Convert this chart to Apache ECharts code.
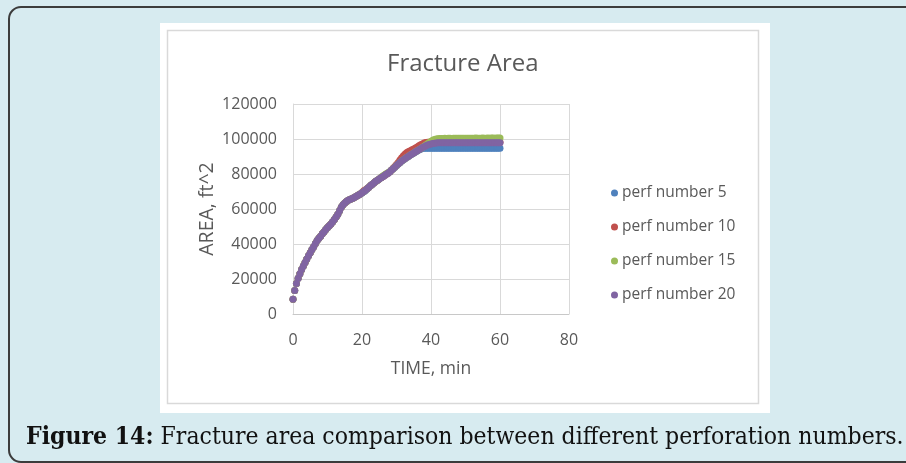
<!DOCTYPE html>
<html>
<head>
<meta charset="utf-8">
<script src="https://cdn.jsdelivr.net/npm/echarts@6/dist/echarts.min.js"></script>
<style>
  html, body { margin: 0; padding: 0; background: #d7ebf0; }
  #chart { width: 906px; height: 463px; }
</style>
</head>
<body>
<div id="chart"></div>
<script>
// Elapsed pumping time, minutes (shared by all runs)
const timeMin = [
  0, 0.5, 1, 1.5, 2, 2.5, 3, 3.5, 4, 4.5,
  5, 5.5, 6, 6.5, 7, 7.5, 8, 8.5, 9, 9.5,
  10, 10.5, 11, 11.5, 12, 12.5, 13, 13.5, 14, 14.5,
  15, 15.5, 16, 16.5, 17, 17.5, 18, 18.5, 19, 19.5,
  20, 20.5, 21, 21.5, 22, 22.5, 23, 23.5, 24, 24.5,
  25, 25.5, 26, 26.5, 27, 27.5, 28, 28.5, 29, 29.5,
  30, 30.5, 31, 31.5, 32, 32.5, 33, 33.5, 34, 34.5,
  35, 35.5, 36, 36.5, 37, 37.5, 38, 38.5, 39, 39.5,
  40, 40.5, 41, 41.5, 42, 42.5, 43, 43.5, 44, 44.5,
  45, 45.5, 46, 46.5, 47, 47.5, 48, 48.5, 49, 49.5,
  50, 50.5, 51, 51.5, 52, 52.5, 53, 53.5, 54, 54.5,
  55, 55.5, 56, 56.5, 57, 57.5, 58, 58.5, 59, 59.5,
  60];

// Fracture area, ft^2, for each perforation count
const perf5 = [
  8500, 13500, 17500, 20500, 23000, 25500, 27500, 29500, 31500, 33300,
  35000, 36800, 38500, 40300, 42000, 43300, 44500, 45800, 47000, 48300,
  49500, 50500, 51500, 52700, 54000, 55500, 57000, 59000, 61000, 62400,
  63500, 64300, 65000, 65400, 65800, 66300, 66800, 67400, 68000, 68600,
  69100, 69800, 70600, 71600, 72500, 73400, 74200, 75000, 75800, 76500,
  77200, 77900, 78500, 79200, 79800, 80500, 81200, 82100, 83000, 83900,
  84800, 85700, 86600, 87400, 88200, 88900, 89600, 90200, 90800, 91400,
  92000, 92600, 93100, 93700, 94200, 94600, 94700, 94700, 94700, 94700,
  94700, 94700, 94700, 94700, 94700, 94700, 94700, 94700, 94700, 94700,
  94700, 94700, 94700, 94700, 94700, 94700, 94700, 94700, 94700, 94700,
  94700, 94700, 94700, 94700, 94700, 94700, 94700, 94700, 94700, 94700,
  94700, 94700, 94700, 94700, 94700, 94700, 94700, 94700, 94700, 94700,
  94700];
const perf10 = [
  8500, 13500, 17500, 20500, 23000, 25500, 27500, 29500, 31500, 33300,
  35000, 36800, 38500, 40300, 42000, 43300, 44500, 45800, 47000, 48300,
  49500, 50500, 51500, 52700, 54000, 55500, 57000, 59000, 61000, 62400,
  63500, 64300, 65000, 65400, 65800, 66300, 66800, 67400, 68000, 68600,
  69500, 70400, 71000, 71700, 72500, 73400, 74200, 75000, 75800, 76500,
  77200, 77900, 78500, 79200, 79800, 80500, 81200, 82100, 83300, 84300,
  85400, 86600, 88000, 89300, 90500, 91500, 92300, 92800, 93300, 93800,
  94300, 94900, 95500, 96100, 96700, 97200, 97700, 98000, 98200, 98200,
  98200, 98200, 98200, 98200, 98200, 98200, 98200, 98200, 98200, 98200,
  98200, 98200, 98200, 98200, 98200, 98200, 98200, 98200, 98200, 98200,
  98200, 98200, 98200, 98200, 98200, 98200, 98200, 98200, 98200, 98200,
  98200, 98200, 98200, 98200, 98200, 98200, 98200, 98200, 98200, 98200,
  98200];
const perf15 = [
  8500, 13500, 17500, 20500, 23000, 25500, 27500, 29500, 31500, 33300,
  35000, 36800, 38500, 40300, 42000, 43300, 44500, 45800, 47000, 48300,
  49500, 50500, 51500, 52700, 54000, 55500, 57000, 59000, 61000, 62400,
  63500, 64300, 65000, 65400, 65800, 66300, 66800, 67400, 68000, 68600,
  69300, 70000, 70700, 71600, 72500, 73400, 74200, 75000, 75800, 76500,
  77200, 78000, 78800, 79500, 80100, 80700, 81300, 82100, 83000, 83900,
  84800, 85700, 86600, 87400, 88200, 88900, 89600, 90200, 90800, 91400,
  92000, 92700, 93300, 93900, 94500, 95200, 95900, 96600, 97300, 98000,
  98700, 99300, 99700, 100000, 100200, 100300, 100300, 100300, 100400, 100300,
  100400, 100400, 100300, 100400, 100400, 100500, 100400, 100400, 100500, 100400,
  100500, 100500, 100400, 100500, 100500, 100500, 100600, 100500, 100500, 100500,
  100600, 100500, 100500, 100600, 100500, 100600, 100600, 100500, 100600, 100600,
  100600];
const perf20 = [
  8500, 13500, 17500, 20500, 23000, 25500, 27500, 29500, 31500, 33300,
  35000, 36800, 38500, 40300, 42000, 43300, 44500, 45800, 47000, 48300,
  49500, 50500, 51500, 52700, 54000, 55500, 57000, 59000, 61000, 62400,
  63500, 64300, 65000, 65400, 65800, 66300, 66800, 67400, 68000, 68600,
  69300, 70000, 70700, 71600, 72500, 73400, 74200, 75000, 75800, 76500,
  77200, 77900, 78500, 79200, 79800, 80500, 81200, 82100, 83000, 83900,
  84800, 85700, 86600, 87400, 88200, 88900, 89600, 90200, 90800, 91400,
  92000, 92700, 93300, 93900, 94500, 95100, 95600, 96100, 96600, 96900,
  97200, 97400, 97600, 97700, 97800, 97900, 97900, 97900, 97900, 97900,
  97900, 97900, 97900, 97900, 97900, 97900, 97900, 97900, 97900, 97900,
  97900, 97900, 97900, 97900, 97900, 97900, 97900, 97900, 97900, 97900,
  97900, 97900, 97900, 97900, 97900, 97900, 97900, 97900, 97900, 97900,
  97900];

const seriesNames = ['perf number 5', 'perf number 10', 'perf number 15', 'perf number 20'];
const seriesValues = [perf5, perf10, perf15, perf20];
const seriesColors = ['#4f81bd', '#c0504d', '#9bbb59', '#8064a2'];

const xTicks = { min: 0, max: 80, step: 20 };
const yTicks = { min: 0, max: 120000, step: 20000 };

const FONT = '"Open Sans", Lato, sans-serif';
const SERIF = '"DejaVu Serif Condensed", "DejaVu Serif", serif';
const TEXT_GREY = '#595959';
const GRID_GREY = '#d9d9d9';

const chart = echarts.init(document.getElementById('chart'), null, { renderer: 'canvas' });

chart.setOption({
  backgroundColor: '#d7ebf0',
  animation: false,
  graphic: [
    // rounded frame around the figure
    { type: 'rect', z: 0, silent: true,
      shape: { x: 9, y: 7, width: 1100, height: 455, r: 12 },
      style: { fill: '#d7ebf0', stroke: '#3c3c3c', lineWidth: 2 } },
    // white chart panel
    { type: 'rect', z: 0, silent: true,
      shape: { x: 160, y: 23, width: 610, height: 390 },
      style: { fill: '#ffffff' } },
    { type: 'rect', z: 0, silent: true,
      shape: { x: 167.5, y: 30.5, width: 591, height: 373 },
      style: { fill: '#ffffff', stroke: GRID_GREY, lineWidth: 1.5 } },
    // caption
    { type: 'text', z: 5, silent: true, left: 26, top: 425,
      style: {
        text: '{b|Figure 14:}{n| Fracture area comparison between different perforation numbers.}',
        rich: {
          b: { fontFamily: SERIF, fontWeight: 'bold', fontSize: 24.5, fill: '#111' },
          n: { fontFamily: SERIF, fontSize: 24.5, fill: '#111' }
        }
      } }
  ],
  title: {
    text: 'Fracture Area',
    left: 382, top: 47,
    textStyle: { fontFamily: FONT, fontWeight: 'normal', fontSize: 24, color: TEXT_GREY }
  },
  legend: {
    orient: 'vertical',
    left: 606, top: 180,
    itemGap: 18,
    itemWidth: 7, itemHeight: 7,
    icon: 'circle',
    data: seriesNames,
    textStyle: { fontFamily: FONT, fontSize: 15.5, color: TEXT_GREY, padding: [0, 0, 0, -1] }
  },
  grid: { left: 293, right: 337, top: 104, bottom: 149, containLabel: false },
  xAxis: {
    type: 'value',
    min: xTicks.min, max: xTicks.max, interval: xTicks.step,
    name: 'TIME, min', nameLocation: 'middle', nameGap: 46,
    nameTextStyle: { fontFamily: FONT, fontSize: 17.5, color: TEXT_GREY },
    axisLine: { show: true, lineStyle: { color: '#c8c8c8', width: 1 } },
    axisTick: { show: false },
    axisLabel: { fontFamily: FONT, fontSize: 16, color: TEXT_GREY, margin: 18 },
    splitLine: { show: true, lineStyle: { color: GRID_GREY, width: 1 } }
  },
  yAxis: {
    type: 'value',
    min: yTicks.min, max: yTicks.max, interval: yTicks.step,
    name: 'AREA, ft^2', nameLocation: 'middle', nameGap: 76, nameRotate: 90,
    nameTextStyle: { fontFamily: FONT, fontSize: 19.5, color: TEXT_GREY },
    axisLine: { show: true, lineStyle: { color: GRID_GREY, width: 1 } },
    axisTick: { show: false },
    axisLabel: { fontFamily: FONT, fontSize: 16, color: TEXT_GREY, margin: 16,
      formatter: (v) => String(v) },
    splitLine: { show: true, lineStyle: { color: GRID_GREY, width: 1 } }
  },
  series: seriesNames.map((name, i) => ({
    name,
    type: 'scatter',
    symbol: 'circle',
    symbolSize: 7,
    itemStyle: { color: seriesColors[i], opacity: 1 },
    data: timeMin.map((t, k) => [t, seriesValues[i][k]]),
    z: 2 + i
  }))
});
</script>
</body>
</html>
